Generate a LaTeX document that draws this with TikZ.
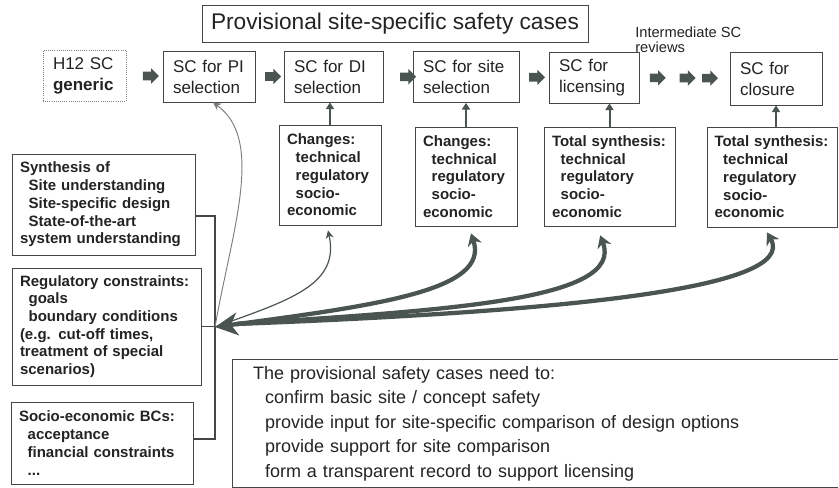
\documentclass[tikz,border=0pt]{standalone}
\usepackage{fontspec}
\setmainfont{Liberation Sans}
\usetikzlibrary{arrows.meta,shapes.arrows}
\definecolor{boxgrey}{RGB}{70,70,70}
\definecolor{txtgrey}{RGB}{35,35,35}
\definecolor{arrgrey}{RGB}{74,84,80}
\definecolor{thingrey}{RGB}{125,125,125}
\newcommand\ind{\hspace*{6.5pt}}
\tikzset{
  scpic/.style={x=0.75pt,y=-0.75pt,text=txtgrey},
  scbox/.style={draw=boxgrey,line width=0.6pt,align=left,inner xsep=7.5pt,inner ysep=0pt,
    minimum height=38.25pt,font=\fontsize{12.75}{15.75}\selectfont},
  infobox/.style={draw=boxgrey,line width=0.6pt,align=left,inner xsep=6pt,inner ysep=0pt,
    font=\fontsize{11.25}{13.3}\selectfont\bfseries},
  blkarrow/.style={single arrow,fill=arrgrey,inner xsep=0pt,inner ysep=3pt,text height=0pt,text depth=0pt,
    minimum height=12pt,single arrow head extend=2.6pt,single arrow head indent=0pt},
  uparrow/.style={arrgrey,line width=1.5pt,-{Triangle[length=5pt,width=6pt]}},
  joinline/.style={boxgrey,line width=1.2pt},
  thinarc/.style={arrgrey,line width=0.9pt,-{Stealth[length=6pt,width=6pt,inset=2pt]}},
  thickarc/.style={arrgrey,line width=3.2pt,-{Stealth[length=9pt,width=11pt,inset=3pt]}}
}

\begin{document}
\begin{tikzpicture}[scpic]
    \useasboundingbox (0,0) rectangle (839,488);
    \node[draw=boxgrey,line width=0.6pt,minimum width=289.5pt,minimum height=27.75pt,inner sep=0pt,
      font=\fontsize{17}{20}\selectfont] (title) at (395,23.5) {Provisional site-specific safety cases};
    \node[anchor=west,align=left,inner sep=0pt,font=\fontsize{11}{11.25}\selectfont] (inter) at (635,39.5)
      {Intermediate SC\\reviews};

    \node[scbox,draw=gray,densely dotted,text width=47.25pt] (h12) at (84.5,75.5) {H12 SC\\\textbf{generic}};
    \node[scbox,text width=54pt] (pi) at (209,76.5) {SC for PI\\selection};
    \node[scbox,text width=59.25pt] (di) at (333.5,76.5) {SC for DI\\selection};
    \node[scbox,text width=64.5pt] (site) at (466,77) {SC for site\\selection};
    \node[scbox,text width=52.5pt] (lic) at (594,77.5) {SC for\\licensing};
    \node[scbox,text width=54pt,minimum height=39.75pt] (clo) at (776,78.5) {SC for\\closure};

    \foreach \a/\b/\p [count=\i] in {h12/pi/.62,pi/di/.55,di/site/.77,site/lic/.53,lic/clo/.18,lic/clo/.51,lic/clo/.76}
      \path (\a) -- node[blkarrow,pos=\p] (blk\i) {} (\b);

    \node[infobox,text width=64.5pt,minimum height=75pt] (ch1) at (330,175)
      {Changes:\\\ind technical\\\ind regulatory\\\ind socio-\\economic};
    \node[infobox,text width=64.5pt,minimum height=74.25pt] (ch2) at (466,176.5)
      {Changes:\\\ind technical\\\ind regulatory\\\ind socio-\\economic};
    \node[infobox,text width=86.25pt,minimum height=74.25pt] (ts1) at (609.5,176.5)
      {Total synthesis:\\\ind technical\\\ind regulatory\\\ind socio-\\economic};
    \node[infobox,text width=86.25pt,inner xsep=5.6pt,minimum height=75pt] (ts2) at (772,177)
      {Total synthesis:\\\ind technical\\\ind regulatory\\\ind socio-\\economic};

    \draw[uparrow] (ch1.north) -- (ch1.north |- di.south);
    \draw[uparrow] (ch2.north) -- (ch2.north |- site.south);
    \draw[uparrow] (ts1.north) -- (ts1.north |- lic.south);
    \draw[uparrow] (clo.south |- ts2.north) -- (clo.south);

    \node[infobox,text width=125.25pt,minimum height=75.75pt] (syn) at (103.5,204.5)
      {Synthesis of\\\ind Site understanding\\\ind Site-specific design\\\ind State-of-the-art\\system understanding};
    \node[infobox,text width=129.75pt,minimum height=87.75pt] (reg) at (106.5,326.5)
      {Regulatory constraints:\\\ind goals\\\ind boundary conditions\\(e.g. cut-off times,\\treatment of special\\scenarios)};
    \node[infobox,text width=124.5pt,minimum height=61.5pt] (soc) at (102,443)
      {Socio-economic BCs:\\\ind acceptance\\\ind financial constraints\\\ind ...};

    \node[align=left,inner xsep=15pt,inner ysep=0pt,text width=423.75pt,
      minimum height=95.25pt,font=\fontsize{13.5}{18.4}\selectfont] (need) at (535.5,423.5)
      {The provisional safety cases need to:\\
       \hspace*{9pt}confirm basic site / concept safety\\
       \hspace*{9pt}provide input for site-specific comparison of design options\\
       \hspace*{9pt}provide support for site comparison\\
       \hspace*{9pt}form a transparent record to support licensing};
    \draw[boxgrey,line width=0.6pt] (need.north east) -- (need.north west) -- (need.south west) -- (need.south east);

    \coordinate (hub) at (215,327);
    \coordinate (hubin) at (236,324);
    \draw[joinline] ([yshift=-8.6pt]syn.east) -| (hub) |- ([yshift=3pt]soc.east);
    \draw[joinline] (reg.east) -- (reg.east -| hub);

    \draw[thinarc,thingrey,line width=0.7pt] (hub) .. controls (232,230) and (265,140) .. ([xshift=3pt]pi.south);
    \draw[thinarc] (hub) .. controls (290,300) and (340,285) .. ([shift={(-1.5pt,-3.75pt)}]ch1.south);
    \draw[thickarc,{Stealth[length=17pt,width=17pt,inset=5pt]}-{Stealth[length=9pt,width=11pt,inset=3pt]}]
      (hub) .. controls (380,305) and (490,290) .. ([shift={(3.75pt,-5.25pt)}]ch2.south);
    \draw[thickarc] (hubin) .. controls (450,310) and (625,300) .. ([shift={(-7pt,-6.75pt)}]ts1.south);
    \draw[thickarc] (hubin) .. controls (550,312) and (800,290) .. ([shift={(-3.75pt,-3.75pt)}]ts2.south);
\end{tikzpicture}
\end{document}
